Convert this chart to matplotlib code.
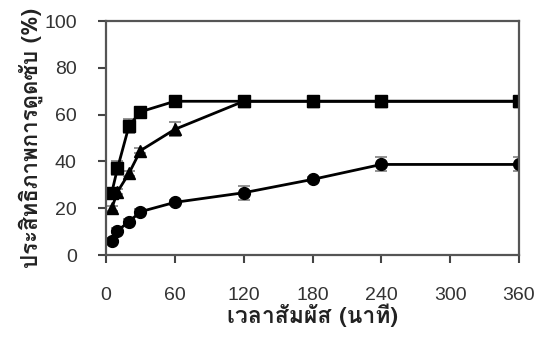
import matplotlib
matplotlib.use("Agg")
import matplotlib.pyplot as plt

# contact time (min) and adsorption efficiency (%)
time_min = [5, 10, 20, 30, 60, 120, 180, 240, 360]
eff_square = [26.6, 37.0, 55.1, 61.2, 65.7, 65.7, 65.7, 65.7, 65.7]
err_square = [1.5, 3.0, 3.0, 1.0, 1.0, 1.0, 1.0, 1.0, 1.0]
eff_triangle = [19.9, 27.0, 34.9, 44.6, 53.7, 65.7, 65.7, 65.7, 65.7]
err_triangle = [1.0, 1.0, 1.0, 1.0, 3.0, 1.0, 1.0, 1.0, 1.0]
eff_circle = [6.1, 10.4, 14.2, 18.5, 22.5, 26.6, 32.3, 38.7, 38.7]
err_circle = [1.0, 1.0, 1.0, 1.0, 1.0, 3.0, 1.0, 3.0, 3.0]

x_ticks = [0, 60, 120, 180, 240, 300, 360]
y_ticks = [0, 20, 40, 60, 80, 100]

x_label = "เวลาสัมผัส (นาที)"
y_label = "ประสิทธิภาพการดูดซับ (%)"

plt.rcParams["font.family"] = ["Liberation Sans", "DejaVu Sans"]

fig = plt.figure(figsize=(5.46, 3.41), dpi=100)
ax = fig.add_axes([106 / 546, 86 / 341, 413 / 546, 234 / 341])

for y, e, m, ms in [(eff_triangle, err_triangle, "^", 9),
                    (eff_circle, err_circle, "o", 8.5),
                    (eff_square, err_square, "s", 9)]:
    ax.errorbar(time_min, y, yerr=e, color="black", ecolor="#808080",
                elinewidth=1.2, capsize=4, capthick=1.2, marker=m,
                markersize=ms, linewidth=2)

ax.set_xlim(0, 360)
ax.set_ylim(0, 100)
ax.set_xticks(x_ticks)
ax.set_yticks(y_ticks)
ax.tick_params(direction="out", length=6, width=1.5, colors="#444444",
               labelcolor="#333333", labelsize=14)
ax.tick_params(axis="x", pad=17)
ax.tick_params(axis="y", pad=15)
for s in ax.spines.values():
    s.set_linewidth(1.6)
    s.set_color("#555555")

ax.set_xlabel(x_label, fontsize=16.5, fontweight="bold", color="#222222",
              family=["Loma", "DejaVu Sans"], labelpad=0)
ax.set_ylabel(y_label, fontsize=16, fontweight="bold", color="#222222",
              family=["Loma", "DejaVu Sans"], labelpad=1)

fig.savefig("out.png", dpi=100)
